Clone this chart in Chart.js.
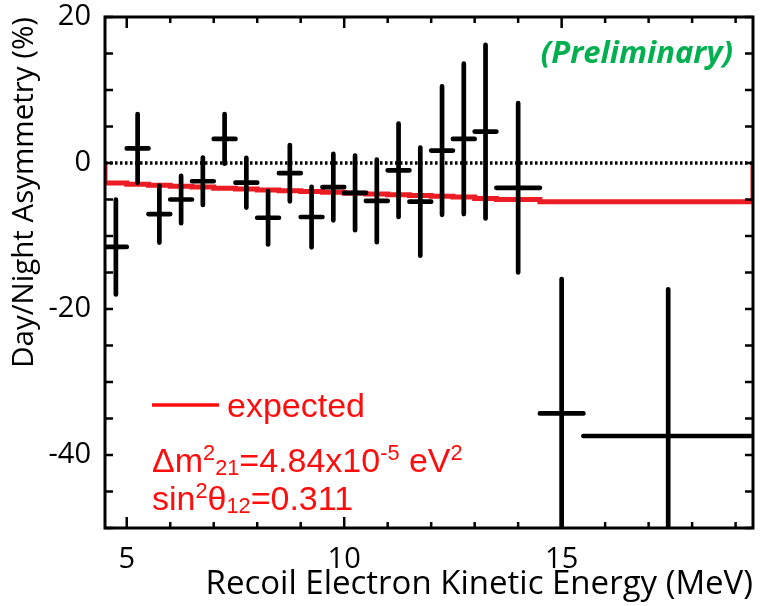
<!DOCTYPE html>
<html>
<head>
<meta charset="utf-8">
<script src="https://cdn.jsdelivr.net/npm/chart.js@4.4.1/dist/chart.umd.min.js"></script>
<style>
  html, body { margin: 0; padding: 0; background: #fff; }
  #dnChart { display: block; }
</style>
</head>
<body>
<canvas id="dnChart" width="760" height="606"></canvas>
<script>
// energy bins (MeV)
const binLow  = [4.5, 5.0, 5.5, 6.0, 6.5, 7.0, 7.5, 8.0, 8.5, 9.0, 9.5, 10.0, 10.5, 11.0, 11.5, 12.0, 12.5, 13.0, 13.5, 14.5, 15.5];
const binHigh = [5.0, 5.5, 6.0, 6.5, 7.0, 7.5, 8.0, 8.5, 9.0, 9.5, 10.0, 10.5, 11.0, 11.5, 12.0, 12.5, 13.0, 13.5, 14.5, 15.5, 19.4];

// measured day/night asymmetry and its error (%)
const asymmetry = [-11.5, 2.0, -7.0, -5.0, -2.5, 3.3, -2.7, -7.5, -1.4, -7.4, -3.3, -4.1, -5.2, -1.0, -5.3, 1.7, 3.3, 4.3, -3.4, -34.3, -37.4];
const asymError = [6.5, 4.7, 3.9, 3.25, 3.25, 3.4, 3.4, 3.65, 3.85, 4.15, 4.55, 5.1, 5.65, 6.4, 7.4, 8.8, 10.3, 11.9, 11.6, 18.4, 20.1];

// expected asymmetry for each bin (%)
const expected = [-2.6, -2.75, -2.9, -3.05, -3.2, -3.3, -3.45, -3.55, -3.7, -3.8, -3.9, -4.0, -4.15, -4.25, -4.35, -4.45, -4.55, -4.65, -4.85, -5.0, -5.3];

// labelled ticks
const xLabels = [5, 10, 15];
const yLabels = [20, 0, -20, -40];

const xMin = 4.5, xMax = 19.4, yMin = -50, yMax = 20;

const centers = binLow.map((lo, i) => (lo + binHigh[i]) / 2);
const points = centers.map((x, i) => ({ x: x, y: asymmetry[i] }));

// histogram outline, starting and ending at zero
const expectedLine = [{ x: binLow[0], y: 0 }];
binLow.forEach((lo, i) => expectedLine.push({ x: lo, y: expected[i] }));
expectedLine.push({ x: binHigh[binHigh.length - 1], y: expected[expected.length - 1] });
expectedLine.push({ x: binHigh[binHigh.length - 1], y: 0 });

const RED = '#ff0d0d';

// crosses: vertical = error, horizontal = bin width
const errorBars = {
  id: 'errorBars',
  afterDatasetsDraw(chart) {
    const { ctx, chartArea: a, scales: { x, y } } = chart;
    ctx.save();
    ctx.beginPath();
    ctx.rect(a.left, a.top, a.width, a.height);
    ctx.clip();
    ctx.strokeStyle = '#000';
    ctx.lineWidth = 4.7;
    ctx.lineCap = 'round';
    points.forEach((p, i) => {
      const px = x.getPixelForValue(p.x);
      const py = y.getPixelForValue(p.y);
      ctx.beginPath();
      ctx.moveTo(px, y.getPixelForValue(p.y + asymError[i]));
      ctx.lineTo(px, y.getPixelForValue(p.y - asymError[i]));
      ctx.moveTo(x.getPixelForValue(binLow[i]), py);
      ctx.lineTo(x.getPixelForValue(binHigh[i]), py);
      ctx.stroke();
    });
    ctx.restore();
  }
};

// box frame with inward ticks on all four sides
const frameTicks = {
  id: 'frameTicks',
  afterDraw(chart) {
    const { ctx, chartArea: a, scales: { x, y } } = chart;
    ctx.save();
    ctx.strokeStyle = '#000';
    ctx.lineWidth = 2.5;
    ctx.beginPath();
    x.ticks.forEach(t => {
      const px = x.getPixelForValue(t.value);
      const len = t.value % 5 === 0 ? 11 : 6;
      ctx.moveTo(px, a.bottom); ctx.lineTo(px, a.bottom - len);
      ctx.moveTo(px, a.top); ctx.lineTo(px, a.top + len);
    });
    y.ticks.forEach(t => {
      const py = y.getPixelForValue(t.value);
      ctx.moveTo(a.left, py); ctx.lineTo(a.left + 8, py);
      ctx.moveTo(a.right, py); ctx.lineTo(a.right - 8, py);
    });
    ctx.stroke();
    ctx.lineWidth = 3;
    ctx.strokeRect(a.left, a.top, a.width, a.height);
    ctx.restore();
  }
};

function drawRich(ctx, parts, x, base, size) {
  parts.forEach(([text, kind]) => {
    let s = size, dy = 0;
    if (kind === 'sup') { s = size * 0.64; dy = -size * 0.36; }
    if (kind === 'sub') { s = size * 0.64; dy = size * 0.1; }
    ctx.font = s + 'px "Liberation Sans", Arial, sans-serif';
    ctx.fillText(text, x, base + dy);
    x += ctx.measureText(text).width;
  });
}

// legend, oscillation parameters and the "Preliminary" stamp
const notes = {
  id: 'notes',
  afterDraw(chart) {
    const { ctx, chartArea: a } = chart;
    ctx.save();
    ctx.strokeStyle = RED;
    ctx.lineWidth = 3.5;
    ctx.beginPath();
    ctx.moveTo(a.left + 47, 405);
    ctx.lineTo(a.left + 114, 405);
    ctx.stroke();

    ctx.fillStyle = RED;
    ctx.textBaseline = 'alphabetic';
    ctx.textAlign = 'left';
    ctx.font = '34px "Liberation Sans", Arial, sans-serif';
    ctx.fillText('expected', a.left + 122, 417);

    drawRich(ctx, [['Δm'], ['2', 'sup'], ['21', 'sub'], ['=4.84x10'], ['-5', 'sup'], [' eV'], ['2', 'sup']], a.left + 47, 472, 34);
    drawRich(ctx, [['sin'], ['2', 'sup'], ['θ'], ['12', 'sub'], ['=0.311']], a.left + 47, 510, 34);

    ctx.fillStyle = '#00b050';
    ctx.textAlign = 'right';
    ctx.font = 'italic bold 31px "Open Sans", sans-serif';
    ctx.fillText('(Preliminary)', a.right - 20, 63);
    ctx.restore();
  }
};

const tickFont = { family: '"Open Sans", sans-serif', size: 29 };

new Chart(document.getElementById('dnChart'), {
  type: 'scatter',
  data: {
    datasets: [
      {
        // zero reference
        data: [{ x: xMin, y: 0 }, { x: xMax, y: 0 }],
        showLine: true,
        borderColor: '#000',
        borderWidth: 3.5,
        borderDash: [2.5, 2.5],
        pointRadius: 0
      },
      {
        label: 'expected',
        data: expectedLine,
        showLine: true,
        stepped: 'after',
        borderColor: '#ec1c24',
        borderWidth: 5,
        pointRadius: 0
      },
      {
        label: 'data',
        data: points,
        pointRadius: 0
      }
    ]
  },
  options: {
    responsive: false,
    animation: false,
    devicePixelRatio: 1,
    layout: { padding: { top: 17, right: 7, left: 0, bottom: 0 } },
    plugins: {
      legend: { display: false },
      tooltip: { enabled: false }
    },
    scales: {
      x: {
        type: 'linear',
        min: xMin,
        max: xMax,
        grid: { display: false, drawTicks: false },
        border: { display: false },
        ticks: {
          autoSkip: false,
          maxRotation: 0,
          padding: 14,
          color: '#000',
          font: tickFont,
          callback: v => xLabels.includes(v) ? String(v) : ''
        },
        afterBuildTicks(scale) {
          const t = [];
          for (let v = Math.ceil(xMin); v <= xMax; v++) t.push({ value: v });
          scale.ticks = t;
        },
        title: {
          display: true,
          text: 'Recoil Electron Kinetic Energy (MeV)',
          align: 'end',
          color: '#000',
          font: { family: '"Open Sans", sans-serif', size: 33 },
          padding: { top: 0, bottom: 2 }
        },
        afterFit(scale) {
          scale.height = 78;
          scale.paddingLeft = 0;
          scale.paddingRight = 0;
        }
      },
      y: {
        type: 'linear',
        min: yMin,
        max: yMax,
        grid: { display: false, drawTicks: false },
        border: { display: false },
        ticks: {
          autoSkip: false,
          padding: 14,
          color: '#000',
          font: tickFont,
          callback: v => yLabels.includes(v) ? String(v) : ''
        },
        afterBuildTicks(scale) {
          const t = [];
          for (let v = yMin; v <= yMax; v += 5) t.push({ value: v });
          scale.ticks = t;
        },
        title: {
          display: true,
          text: 'Day/Night Asymmetry (%)',
          align: 'end',
          color: '#000',
          font: { family: '"Open Sans", sans-serif', size: 29.5 },
          padding: { top: 7, bottom: 0 }
        },
        afterFit(scale) {
          scale.width = 105;
          scale.paddingTop = 0;
          scale.paddingBottom = 0;
        }
      }
    }
  },
  plugins: [errorBars, frameTicks, notes]
});
</script>
</body>
</html>
